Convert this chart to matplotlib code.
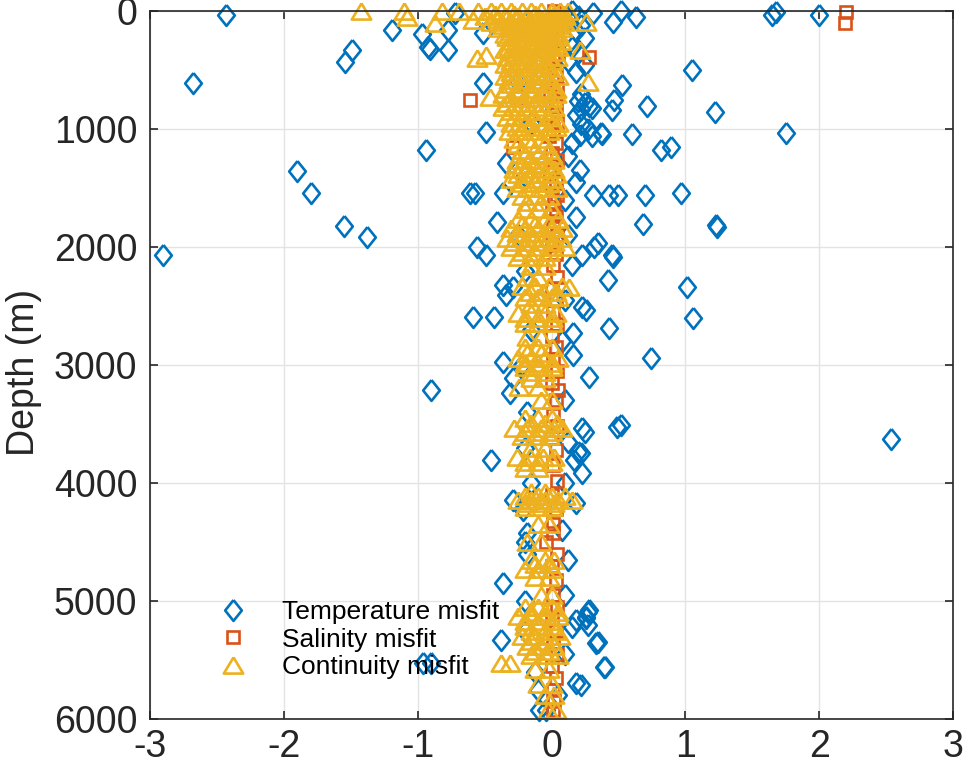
import matplotlib
matplotlib.use("Agg")
import matplotlib.pyplot as plt

# (misfit, depth in m)
temp_points = [
    (-2.43, 31), (-2.68, 613), (-1.19, 161), (-0.97, 195), (-0.92, 305), (-0.91, 325),
    (-1.49, 331), (-1.54, 430), (-0.94, 1178), (-1.90, 1353), (-1.80, 1545), (-1.55, 1819),
    (-1.38, 1918), (-2.90, 2068), (-0.90, 3212), (-0.96, 5523), (-0.90, 5523),
    (-0.72, 15), (-0.77, 160), (-0.77, 330),
    (0.31, 14), (0.46, 90), (0.52, 0), (0.63, 48), (1.65, 34), (1.68, 6), (2.00, 34),
    (1.05, 500), (1.22, 853), (1.75, 1037), (0.53, 627), (0.71, 805), (0.47, 754),
    (0.45, 839), (0.37, 1035), (0.38, 1045), (0.60, 1042), (0.82, 1178), (0.89, 1150),
    (0.31, 1559), (0.43, 1559), (0.50, 1559), (0.70, 1559), (0.97, 1545), (0.68, 1800),
    (1.23, 1814), (1.24, 1828), (0.35, 1969), (0.46, 2082), (0.45, 2068), (0.42, 2280),
    (1.01, 2336), (0.26, 2534), (0.43, 2689), (1.06, 2604), (0.74, 2944), (0.23, 2068),
    (0.28, 3099), (0.23, 3537), (0.25, 3565), (0.49, 3523), (0.52, 3509), (2.54, 3630),
    (0.22, 3746), (0.23, 3918), (0.27, 5090), (0.26, 5147), (0.27, 5204), (0.33, 5353),
    (0.39, 5557), (0.22, 5712),
    (-0.51, 613), (-0.49, 1023), (-0.51, 189), (-0.57, 1545), (-0.61, 1545), (-0.36, 1545),
    (-0.41, 1786), (-0.34, 1291), (-0.56, 1997), (-0.49, 2068), (-0.36, 2322), (-0.29, 2336),
    (-0.34, 2407), (-0.59, 2590), (-0.43, 2590), (-0.36, 2972), (-0.31, 3238), (-0.29, 3110),
    (-0.45, 3805), (-0.36, 4850), (-0.38, 5331), (-0.29, 4144), (-0.21, 4229), (-0.18, 4427),
    (-0.20, 4498), (-0.09, 5924), (-0.04, 5924),
    (0.18, 1447), (0.21, 1347), (0.18, 1743), (0.23, 2506), (0.16, 2732), (0.16, 2915),
    (0.20, 3735), (0.17, 3805), (0.32, 1997), (0.28, 5076), (0.26, 5133), (0.35, 5345),
    (0.40, 5557), (0.18, 5698), (0.18, 4172), (0.18, 5161), (0.15, 5218),
    (0.15, 0), (0.20, 40), (0.12, 60), (0.22, 120), (0.18, 170), (0.25, 230),
    (0.15, 300), (0.20, 350), (0.12, 420), (0.25, 460), (0.18, 520), (0.22, 700),
    (0.20, 760), (0.25, 780), (0.28, 800), (0.22, 830), (0.30, 820), (0.18, 880),
    (0.22, 960), (0.27, 1000), (0.21, 1050), (0.30, 1060), (0.15, 1120), (0.12, 1230),
    (0.10, 1600), (0.12, 1900), (0.15, 2150), (0.10, 2450), (0.08, 2800), (0.10, 3300),
    (0.12, 3650), (0.10, 4000), (0.08, 4400), (0.12, 4650), (0.10, 4950), (0.10, 5450),
    (0.05, 5800),
    (-0.20, 100), (-0.10, 250), (-0.25, 600), (-0.15, 950), (-0.20, 1400), (-0.25, 1900),
    (-0.20, 2200), (-0.15, 2700), (-0.22, 3000), (-0.18, 3400), (-0.20, 3700), (-0.15, 4000),
    (-0.18, 4600), (-0.20, 5000), (-0.20, 5250), (-0.12, 5600), (-0.10, 5750),
]

sal_points = [
    (2.20, 6), (2.19, 99), (0.28, 387), (-0.61, 754), (-0.29, 1150), (-0.26, 726),
    (0.01, 4427), (-0.04, 4498), (0.01, 5924), (0.05, 3212),
    (0.02, 0), (0.06, 40), (0.00, 80), (0.04, 130), (-0.02, 180), (0.03, 240), (0.00, 300),
    (0.05, 360), (0.01, 420), (-0.02, 480), (0.03, 540), (0.00, 600), (0.04, 660),
    (-0.01, 720), (0.03, 800), (0.00, 870), (0.04, 940), (0.01, 1000), (-0.02, 1060),
    (0.03, 1120), (0.00, 1200), (0.04, 1260), (0.02, 1320), (-0.01, 1380), (0.03, 1440),
    (0.00, 1500), (0.04, 1560), (0.02, 1620), (0.00, 1680), (0.03, 1740), (0.01, 1820),
    (0.04, 1900), (0.00, 1980), (0.03, 2060), (0.01, 2150), (0.04, 2250), (0.00, 2350),
    (0.03, 2450), (0.01, 2550), (0.04, 2650), (0.00, 2750), (0.03, 2850), (0.01, 2950),
    (0.04, 3050), (0.00, 3150), (0.03, 3300), (0.01, 3420), (0.04, 3520), (0.00, 3620),
    (0.03, 3720), (0.01, 3850), (0.04, 3980), (0.00, 4100), (0.03, 4220), (0.01, 4350),
    (0.04, 4600), (0.00, 4700), (0.03, 4820), (0.01, 4950), (0.04, 5050), (0.00, 5150),
    (0.03, 5250), (0.01, 5350), (0.04, 5450), (0.00, 5550), (0.03, 5650), (0.01, 5750),
    (0.02, 5850),
]

cont_points = [
    (-1.42, 0), (-1.10, 0), (-1.08, 48), (-0.82, 0), (-0.87, 104), (-0.69, 0), (-0.59, 76),
    (-0.55, 0), (-0.45, 0), (-0.38, 0), (-0.30, 0), (-0.22, 0), (-0.15, 0), (-0.08, 0),
    (0.00, 0), (0.06, 0), (0.12, 0),
    (-0.42, 20), (-0.28, 20), (-0.12, 20), (0.02, 20), (0.09, 20),
    (-0.50, 40), (-0.35, 40), (-0.25, 40), (-0.18, 40), (-0.10, 40), (-0.02, 40), (0.05, 40), (0.10, 40),
    (-0.40, 65), (-0.27, 65), (-0.16, 65), (-0.07, 65), (0.01, 65), (0.08, 65),
    (-0.45, 90), (-0.30, 90), (-0.22, 90), (-0.12, 90), (-0.05, 90), (0.03, 90), (0.09, 90), (0.26, 90),
    (-0.36, 115), (-0.25, 115), (-0.15, 115), (-0.05, 115), (0.05, 115),
    (-0.40, 140), (-0.30, 140), (-0.20, 140), (-0.10, 140), (0.00, 140), (0.08, 140),
    (-0.30, 165), (-0.20, 165), (-0.10, 165), (0.02, 165),
    (-0.35, 190), (-0.25, 190), (-0.15, 190), (-0.05, 190), (0.05, 190),
    (-0.33, 220), (-0.24, 220), (-0.14, 220), (-0.04, 220), (0.04, 220),
    (-0.30, 250), (-0.20, 250), (-0.10, 250), (0.00, 250), (0.07, 250),
    (-0.27, 275), (-0.16, 275), (-0.06, 275), (0.03, 275),
    (-0.32, 300), (-0.22, 300), (-0.12, 300), (-0.03, 300), (0.05, 300), (0.21, 330),
    (-0.35, 325), (-0.25, 325), (-0.15, 325), (-0.05, 325),
    (-0.28, 350), (-0.18, 350), (-0.08, 350), (0.02, 350), (-0.49, 373), (-0.56, 401),
    (-0.33, 385), (-0.23, 385), (-0.13, 385), (-0.03, 385), (0.04, 385),
    (-0.30, 420), (-0.20, 420), (-0.10, 420), (0.00, 420),
    (-0.35, 450), (-0.25, 450), (-0.15, 450), (-0.05, 450),
    (-0.32, 480), (-0.22, 480), (-0.12, 480), (-0.02, 480),
    (-0.30, 515), (-0.20, 515), (-0.10, 515), (0.00, 515),
    (-0.35, 550), (-0.25, 550), (-0.15, 550), (-0.05, 550), (0.05, 550), (0.27, 599),
    (-0.32, 585), (-0.22, 585), (-0.12, 585), (-0.02, 585),
    (-0.30, 620), (-0.20, 620), (-0.10, 620), (0.00, 620),
    (-0.35, 660), (-0.25, 660), (-0.15, 660), (-0.05, 660), (0.03, 660),
    (-0.36, 700), (-0.26, 700), (-0.16, 700), (-0.06, 700), (0.03, 700), (-0.46, 726),
    (-0.30, 740), (-0.20, 740), (-0.10, 740), (0.00, 740),
    (-0.33, 780), (-0.23, 780), (-0.13, 780), (-0.03, 780), (-0.36, 811),
    (-0.28, 815), (-0.18, 815), (-0.08, 815), (0.02, 815),
    (-0.30, 850), (-0.20, 850), (-0.10, 850), (0.00, 850),
    (-0.33, 900), (-0.23, 900), (-0.13, 900), (-0.03, 900),
    (-0.30, 950), (-0.20, 950), (-0.10, 950), (0.00, 950), (0.05, 950),
    (-0.26, 985), (-0.16, 985), (-0.06, 985), (0.03, 985),
    (-0.32, 1020), (-0.22, 1020), (-0.12, 1020), (-0.02, 1020),
    (-0.28, 1080), (-0.18, 1080), (-0.08, 1080),
    (-0.25, 1130), (-0.15, 1130), (-0.05, 1130),
    (-0.22, 1180), (-0.12, 1180), (-0.02, 1180),
    (-0.20, 1220), (-0.10, 1220), (0.00, 1220),
    (-0.26, 1260), (-0.16, 1260), (-0.06, 1260), (0.02, 1260),
    (-0.22, 1300), (-0.12, 1300), (-0.02, 1300),
    (-0.28, 1340), (-0.18, 1340), (-0.08, 1340), (0.02, 1340),
    (-0.25, 1380), (-0.15, 1380), (-0.05, 1380), (0.03, 1380),
    (-0.30, 1420), (-0.20, 1420), (-0.10, 1420), (0.00, 1420),
    (-0.22, 1460), (-0.12, 1460), (-0.02, 1460),
    (-0.26, 1500), (-0.16, 1500), (-0.06, 1500), (0.04, 1500),
    (-0.22, 1570), (-0.12, 1570), (-0.02, 1570),
    (-0.18, 1620), (-0.08, 1620),
    (-0.20, 1680), (-0.10, 1680), (0.00, 1680),
    (-0.25, 1760), (-0.15, 1760), (-0.05, 1760), (0.05, 1760),
    (-0.22, 1800), (-0.12, 1800), (-0.02, 1800),
    (-0.30, 1840), (-0.20, 1840), (-0.10, 1840), (0.00, 1840), (0.08, 1840),
    (-0.26, 1880), (-0.16, 1880), (-0.06, 1880), (0.04, 1880),
    (-0.33, 1920), (-0.23, 1920), (-0.13, 1920), (-0.03, 1920), (0.07, 1920),
    (-0.28, 1960), (-0.18, 1960), (-0.08, 1960), (0.02, 1960),
    (-0.30, 2000), (-0.20, 2000), (-0.10, 2000), (0.00, 2000), (0.10, 2000),
    (-0.22, 2040), (-0.12, 2040), (-0.02, 2040),
    (-0.25, 2080), (-0.15, 2080), (-0.05, 2080),
    (-0.15, 2160), (-0.05, 2160),
    (-0.18, 2250), (-0.10, 2250),
    (-0.22, 2330), (-0.12, 2330), (-0.02, 2330), (0.08, 2330), (0.13, 2336),
    (-0.16, 2380), (-0.06, 2380), (0.03, 2380),
    (-0.20, 2420), (-0.10, 2420), (0.00, 2420), (0.05, 2420),
    (-0.15, 2480), (-0.05, 2480),
    (-0.25, 2560), (-0.15, 2560), (-0.05, 2560), (0.03, 2560),
    (-0.20, 2600), (-0.10, 2600), (0.00, 2600),
    (-0.20, 2640), (-0.10, 2640), (0.00, 2640),
    (-0.18, 2760), (-0.08, 2760),
    (-0.20, 2850), (-0.10, 2850), (0.00, 2850),
    (-0.18, 2900), (-0.08, 2900),
    (-0.25, 2940), (-0.15, 2940), (-0.05, 2940), (0.05, 2940),
    (-0.20, 2980), (-0.10, 2980), (0.00, 2980),
    (-0.20, 3020), (-0.10, 3020), (0.00, 3020),
    (-0.15, 3060), (-0.05, 3060),
    (-0.15, 3110), (-0.05, 3110),
    (-0.24, 3190), (-0.10, 3190),
    (-0.08, 3300), (0.00, 3300),
    (-0.20, 3450), (-0.10, 3450), (0.00, 3450),
    (-0.15, 3490), (-0.05, 3490), (0.04, 3490),
    (-0.28, 3530), (-0.18, 3530), (-0.08, 3530), (0.02, 3530), (0.08, 3530),
    (-0.20, 3570), (-0.10, 3570), (0.00, 3570),
    (-0.22, 3600), (-0.12, 3600), (-0.02, 3600),
    (-0.15, 3700), (-0.05, 3700),
    (-0.26, 3780), (-0.16, 3780), (-0.06, 3780), (0.02, 3780),
    (-0.20, 3820), (-0.10, 3820), (0.00, 3820),
    (-0.20, 3870), (-0.10, 3870),
    (-0.15, 4080), (-0.05, 4080),
    (-0.20, 4110), (-0.10, 4110), (0.00, 4110), (0.10, 4110),
    (-0.25, 4140), (-0.15, 4140), (-0.05, 4140), (0.05, 4140), (0.15, 4140),
    (-0.18, 4170), (-0.08, 4170), (0.02, 4170),
    (-0.20, 4200), (-0.10, 4200), (0.00, 4200),
    (-0.10, 4350), (-0.02, 4350),
    (-0.18, 4500), (-0.08, 4500),
    (-0.15, 4650), (-0.05, 4650), (0.02, 4650),
    (-0.12, 4690), (-0.02, 4690),
    (-0.20, 4730), (-0.10, 4730), (0.00, 4730),
    (-0.12, 4800), (-0.02, 4800),
    (-0.08, 4950), (0.00, 4950),
    (-0.20, 5050), (-0.10, 5050), (0.00, 5050),
    (-0.15, 5090), (-0.05, 5090), (0.05, 5090),
    (-0.25, 5130), (-0.15, 5130), (-0.05, 5130), (0.05, 5130),
    (-0.20, 5170), (-0.10, 5170), (0.00, 5170),
    (-0.20, 5210), (-0.10, 5210), (0.00, 5210),
    (-0.15, 5250), (-0.05, 5250), (0.03, 5250),
    (-0.22, 5300), (-0.12, 5300), (-0.02, 5300), (0.06, 5300),
    (-0.15, 5340), (-0.05, 5340),
    (-0.18, 5380), (-0.08, 5380), (0.02, 5380),
    (-0.12, 5420), (-0.02, 5420),
    (-0.15, 5460), (-0.05, 5460), (0.05, 5460),
    (-0.38, 5529), (-0.31, 5529),
    (-0.12, 5580), (-0.02, 5580),
    (-0.10, 5700), (0.00, 5700),
    (-0.05, 5800), (0.02, 5800),
    (-0.03, 5920), (0.03, 5920),
]

labels = ["Temperature misfit", "Salinity misfit", "Continuity misfit"]
colors = ["#0072BD", "#D95319", "#EDB120"]

plt.rcParams["font.family"] = ["Liberation Sans", "DejaVu Sans"]
plt.rcParams["axes.unicode_minus"] = False

diamond = [(0, 1), (0.8, 0), (0, -1), (-0.8, 0), (0, 1)]
triangle = [(0, 0.83), (1, -0.83), (-1, -0.83), (0, 0.83)]

fig = plt.figure(figsize=(9.68, 7.69), dpi=100)
ax = fig.add_axes([0.155, 0.065, 0.8295, 0.9205])

handles = []
for pts, lab, col, mk, ms in zip([temp_points, sal_points, cont_points], labels, colors,
                                  [diamond, "s", triangle], [15, 9, 14]):
    xs = [p[0] for p in pts]
    ds = [p[1] for p in pts]
    h, = ax.plot(xs, ds, linestyle="none", marker=mk, markersize=ms,
                 markerfacecolor="none", markeredgecolor=col, markeredgewidth=1.9,
                 clip_on=False, label=lab)
    handles.append(h)

ax.set_xlim(-3, 3)
ax.set_ylim(6000, 0)
ax.set_xticks(range(-3, 4))
ax.set_yticks(range(0, 6001, 1000))
ax.grid(True, color="#e3e3e3", linewidth=1.0)
ax.set_axisbelow(True)
ax.tick_params(direction="in", length=6, width=1.2, labelsize=27, colors="#262626",
               top=True, right=True, pad=9)
ax.tick_params(axis="x", pad=7)
for s in ax.spines.values():
    s.set_color("#262626")
    s.set_linewidth(1.2)
ax.set_ylabel("Depth (m)", fontsize=27, color="#262626")
ax.yaxis.set_label_coords(-0.1345, 0.49)

ax.legend(handles=handles, loc="upper left", bbox_to_anchor=(0.057, 0.183),
          frameon=False, fontsize=19, handlelength=2.0, handletextpad=0.85,
          labelspacing=0.14, borderaxespad=0)

fig.savefig("out.png", dpi=100)
